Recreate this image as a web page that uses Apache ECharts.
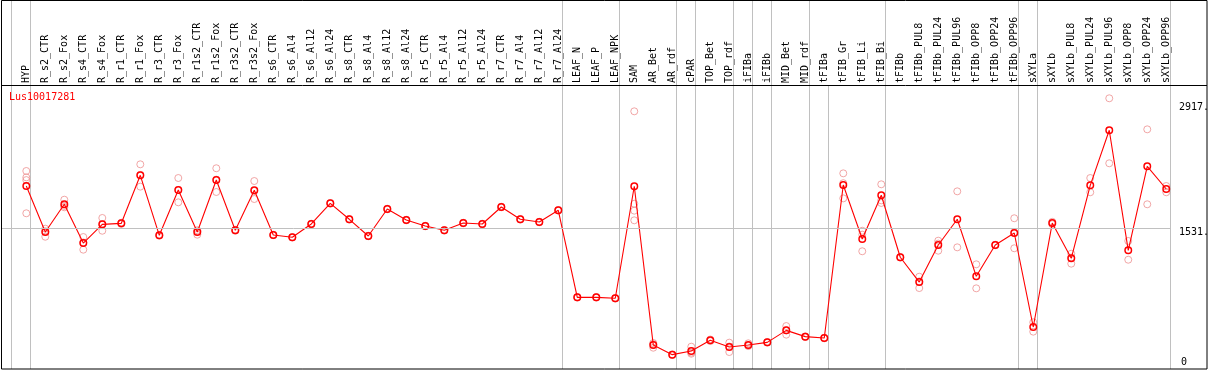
<!DOCTYPE html>
<html><head><meta charset="utf-8">
<script src="https://cdn.jsdelivr.net/npm/echarts@6/dist/echarts.min.js"></script>
<style>html,body{margin:0;padding:0;background:#fff}#c{width:1209px;height:370px}</style>
</head><body><div id="c"></div>
<script>
const categories = ["HYP","R_s2_CTR","R_s2_Fox","R_s4_CTR","R_s4_Fox","R_r1_CTR","R_r1_Fox","R_r3_CTR","R_r3_Fox","R_r1s2_CTR","R_r1s2_Fox","R_r3s2_CTR","R_r3s2_Fox","R_s6_CTR","R_s6_Al4","R_s6_Al12","R_s6_Al24","R_s8_CTR","R_s8_Al4","R_s8_Al12","R_s8_Al24","R_r5_CTR","R_r5_Al4","R_r5_Al12","R_r5_Al24","R_r7_CTR","R_r7_Al4","R_r7_Al12","R_r7_Al24","LEAF_N","LEAF_P","LEAF_NPK","SAM","AR_Bet","AR_rdf","cPAR","TOP_Bet","TOP_rdf","iFIBa","iFIBb","MID_Bet","MID_rdf","tFIBa","tFIB_Gr","tFIB_Li","tFIB_Bi","tFIBb","tFIBb_PUL8","tFIBb_PUL24","tFIBb_PUL96","tFIBb_OPP8","tFIBb_OPP24","tFIBb_OPP96","sXYLa","sXYLb","sXYLb_PUL8","sXYLb_PUL24","sXYLb_PUL96","sXYLb_OPP8","sXYLb_OPP24","sXYLb_OPP96"];
const means = [1982,1491,1787,1374,1573,1584,2096,1456,1939,1491,2046,1510,1936,1460,1435,1577,1797,1627,1449,1737,1619,1555,1510,1587,1577,1758,1627,1598,1723,795,795,785,1979,287,184,223,337,265,287,315,443,376,361,1993,1417,1883,1222,958,1353,1627,1019,1353,1481,479,1587,1211,1989,2576,1296,2192,1950];
const replicates = [[2142,2074,2045,1691],[1527,1441,1500],[1836,1755,1770],[1438,1303,1380],[1641,1505,1573],[1590,1578],[2213,1975,2100],[1460,1452],[2067,1808,1940],[1510,1463,1500],[2171,1918,2050],[1515,1505],[2035,1843,1930],[1462,1458],[1437,1433],[1580,1574],[1800,1794],[1630,1624],[1452,1446],[1740,1734],[1622,1616],[1558,1552],[1513,1507],[1590,1584],[1580,1574],[1761,1755],[1630,1624],[1601,1595],[1726,1720],[798,792],[798,792],[788,782],[2778,1793,1719,1616],[308,258,295],[187,181],[269,194,206],[345,329],[312,212,271],[305,276,280],[318,312],[489,397,443],[379,373],[364,358],[2117,1850,2012],[1505,1463,1286],[2000,1829,1801],[1225,1219],[1015,894,965],[1399,1292,1368],[1925,1328],[1147,891],[1356,1350],[1638,1318,1487],[529,429],[1600,1575],[1260,1154,1219],[2067,1915],[2917,2224],[1396,1196],[2586,1787],[1982,1915]];
const geneName = "Lus10017281";
const axisTickLabels = ["2917.","1531.","0"];
const refLineValue = 1531;
const groupEnds = [-1,0,28,31,34,35,37,38,39,41,45,52,53,60];
const plotOnlyEnds = [42];

const mono = "'DejaVu Sans Mono', monospace";
const chart = echarts.init(document.getElementById('c'), null, {renderer:'canvas'});
const meanData = means.map((v,i)=>[i,v]);
const repData = [];
replicates.forEach((arr,i)=>arr.forEach(v=>repData.push([i,v])));

chart.setOption({
  animation:false,
  backgroundColor:'#fff',
  grid:[
    {left:1,right:38,top:86,bottom:1},
    {left:16.8,right:33.2,top:85,bottom:1}
  ],
  xAxis:[
    {gridIndex:0,type:'value',min:-1.332,max:60.25,show:false},
    {gridIndex:1,type:'category',position:'top',data:categories,boundaryGap:true,
     axisLine:{show:false},axisTick:{show:false},splitLine:{show:false},
     axisLabel:{rotate:90,interval:0,margin:2,fontSize:10,fontFamily:mono,color:'#000'}}
  ],
  yAxis:[
    {gridIndex:0,type:'value',min:31,max:3048,show:false},
    {gridIndex:1,type:'value',show:false}
  ],
  series:[
    {type:'scatter',xAxisIndex:0,yAxisIndex:0,data:repData,symbol:'circle',symbolSize:7,z:2,
     itemStyle:{color:'rgba(0,0,0,0)',borderColor:'#ee9090',borderWidth:1}},
    {type:'line',xAxisIndex:0,yAxisIndex:0,data:meanData,symbol:'circle',symbolSize:6.5,z:3,
     lineStyle:{color:'#ff0000',width:1.1},
     itemStyle:{color:'rgba(0,0,0,0)',borderColor:'#ff0000',borderWidth:1.5},
     markLine:{silent:true,symbol:['none','none'],label:{show:false},
       lineStyle:{color:'#c0c0c0',width:1,type:'solid'},data:[{yAxis:refLineValue}]}}
  ]
});

const px = i => Math.round(chart.convertToPixel({gridIndex:0},[i,refLineValue])[0] + 4) + 0.5;
const graphics = [];
groupEnds.forEach(i=>graphics.push({type:'line',z:1,silent:true,shape:{x1:px(i),y1:0,x2:px(i),y2:369},style:{stroke:'#c0c0c0',lineWidth:1}}));
plotOnlyEnds.forEach(i=>graphics.push({type:'line',z:1,silent:true,shape:{x1:px(i),y1:86,x2:px(i),y2:369},style:{stroke:'#c0c0c0',lineWidth:1}}));
graphics.push({type:'rect',z:10,silent:true,shape:{x:1.5,y:0.5,width:1205.5,height:368.5},style:{fill:'none',stroke:'#000',lineWidth:1}});
graphics.push({type:'line',z:10,silent:true,shape:{x1:1,y1:85.5,x2:1207,y2:85.5},style:{stroke:'#000',lineWidth:1}});
graphics.push({type:'text',z:10,x:9,y:97,style:{text:geneName,fill:'#ff0000',font:"10px "+mono,textVerticalAlign:'middle'}});
const labelY = [107,232,362];
const labelX = [1179,1179,1181];
axisTickLabels.forEach((t,k)=>graphics.push({type:'text',z:10,x:labelX[k],y:labelY[k],style:{text:t,fill:'#000',font:"10px "+mono,textVerticalAlign:'middle'}}));
chart.setOption({graphic:graphics});
</script>
</body></html>
